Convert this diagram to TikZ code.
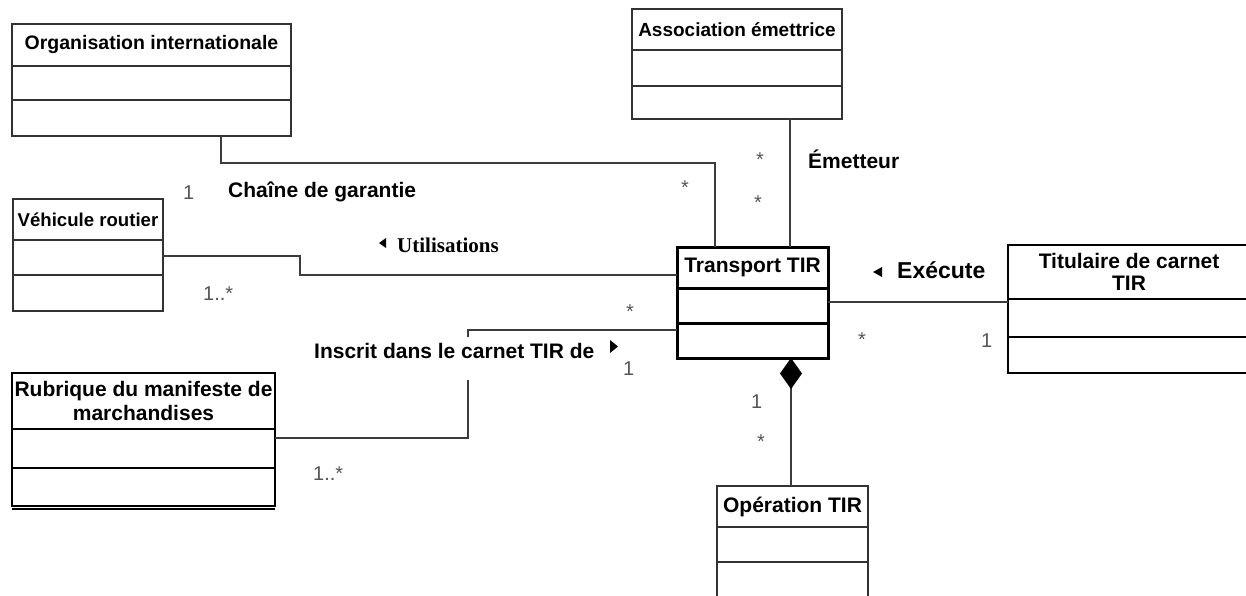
\documentclass[tikz,border=0pt]{standalone}
\usepackage{fontspec}
\setmainfont{Liberation Sans}
\newfontfamily\timesb{Liberation Serif}
\usetikzlibrary{arrows.meta,calc}
\definecolor{boxln}{RGB}{50,50,50}
\definecolor{conn}{RGB}{60,60,60}
\definecolor{multc}{RGB}{85,85,85}
% \umlbox[style]{name}{x,y}{width}{h1}{h2}{h3}{title}
\newcommand{\umlbox}[8][]{%
  \node[clsbox,#1,minimum width=#4,minimum height=#5,anchor=north west] (#2-1) at (#3) {#8};
  \node[clsbox,#1,minimum width=#4,minimum height=#6,anchor=north] (#2-2) at (#2-1.south) {};
  \node[clsbox,#1,minimum width=#4,minimum height=#7,anchor=north] (#2-3) at (#2-2.south) {};
}
\tikzset{
  clsbox/.style={draw=boxln, line width=1.6pt, inner sep=1pt, outer sep=0pt, rectangle,
    align=center, font=\bfseries\fontsize{21}{23}\selectfont},
  strongbox/.style={draw=black, line width=2.2pt},
  heavybox/.style={draw=black, line width=3pt},
  assocline/.style={draw=conn, line width=1.5pt},
  mult/.style={text=multc, font=\fontsize{20}{22}\selectfont, inner sep=0pt, anchor=base west},
  star/.style={text=multc, font=\fontsize{20}{22}\selectfont, inner sep=0pt, anchor=base},
  rolelbl/.style={font=\bfseries\fontsize{21}{23}\selectfont, inner sep=0pt, anchor=base west},
  navtri/.style={fill=black},
}
\begin{document}
\begin{tikzpicture}[x=1pt,y=-1pt]
\useasboundingbox (0,0) rectangle (1246,596);

% classes
\umlbox[font=\bfseries\fontsize{19.5}{22}\selectfont]{org}{12,24}{279}{42}{34}{36}{Organisation internationale}
\umlbox[font=\bfseries\fontsize{19}{22}\selectfont]{asc}{632,9}{210}{41}{36}{33}{Association émettrice}
\umlbox[font=\bfseries\fontsize{18.6}{22}\selectfont]{veh}{13,199}{150}{41}{35}{36}{Véhicule routier}
\umlbox[heavybox]{trans}{677,247}{151}{41}{35}{35}{Transport TIR}
\umlbox[strongbox,font=\bfseries\fontsize{21}{22}\selectfont]{tit}{1008,245}{242}{54}{38}{36}{Titulaire de carnet\\TIR}
\umlbox[strongbox,font=\bfseries\fontsize{21}{24}\selectfont]{rub}{12,373}{263}{56}{39}{38}{Rubrique du manifeste de\\marchandises}
\draw[black, line width=1.2pt] ($(rub-3.south west)+(0,3)$) -- ($(rub-3.south east)+(0,3)$);
\umlbox{op}{717,486}{151}{41}{35}{40}{Opération TIR}

% connectors
\draw[assocline] ($(org-3.south)+(69.5,0)$) -- ++(0,27) -| ($(trans-1.north)+(-37.5,0)$);
\draw[assocline] ($(asc-3.south)+(53,0)$) -- ($(trans-1.north)+(37.5,0)$);
\draw[assocline] ($(veh-2.east)+(0,-1.5)$) -- ++(137,0) |- ($(trans-1.west)+(0,7.5)$);
\draw[assocline] ($(rub-2.east)+(0,-10.5)$) -- ++(193,0) |- ($(trans-3.west)+(0,-10.5)$);
\coordinate (ex) at ($(trans-2.east)+(0,-3.5)$);
\draw[assocline] (ex) -- (ex -| tit-2.west);
\draw[assocline, {Diamond[length=31pt,width=22pt,color=black]}-] ($(trans-3.south)+(38.5,0)$) -- ($(op-1.north)+(-1.5,0)$);

% association labels
\node[rolelbl] (lchaine) at (228,197) {Chaîne de garantie};
\node[rolelbl] (lemet) at (808,168) {Émetteur};
\node[rolelbl, font=\timesb\bfseries\fontsize{21}{23}\selectfont] (lutil) at (397,252) {Utilisations};
\fill[navtri] (379,243) -- (386,238) -- (386,248) -- cycle;
\node[rolelbl, font=\bfseries\fontsize{23}{25}\selectfont] (lexec) at (897,278) {Exécute};
\fill[navtri] (873,272) -- (882,267) -- (882,277) -- cycle;
\node[rolelbl, anchor=north west, fill=white, inner xsep=2pt, inner ysep=0pt,
      text height=21pt, text depth=22pt] (linscr) at (312,337) {Inscrit dans le carnet TIR de};
\fill[navtri] (610,340) -- (610,353) -- (618,346.5) -- cycle;

% multiplicities
\node[mult] (m1) at (183,199) {1};
\node[star] (m2) at (685,194.5) {*};
\node[star] (m3) at (760,166.5) {*};
\node[star] (m4) at (758,209.5) {*};
\node[mult] (m5) at (203,300) {1..*};
\node[star] (m6) at (630,318.5) {*};
\node[mult] (m7) at (623,375) {1};
\node[mult] (m8) at (313,480) {1..*};
\node[star] (m9) at (862,346.5) {*};
\node[mult] (m10) at (981,347) {1};
\node[mult] (m11) at (751,408) {1};
\node[star] (m12) at (761,448.5) {*};
\end{tikzpicture}
\end{document}
